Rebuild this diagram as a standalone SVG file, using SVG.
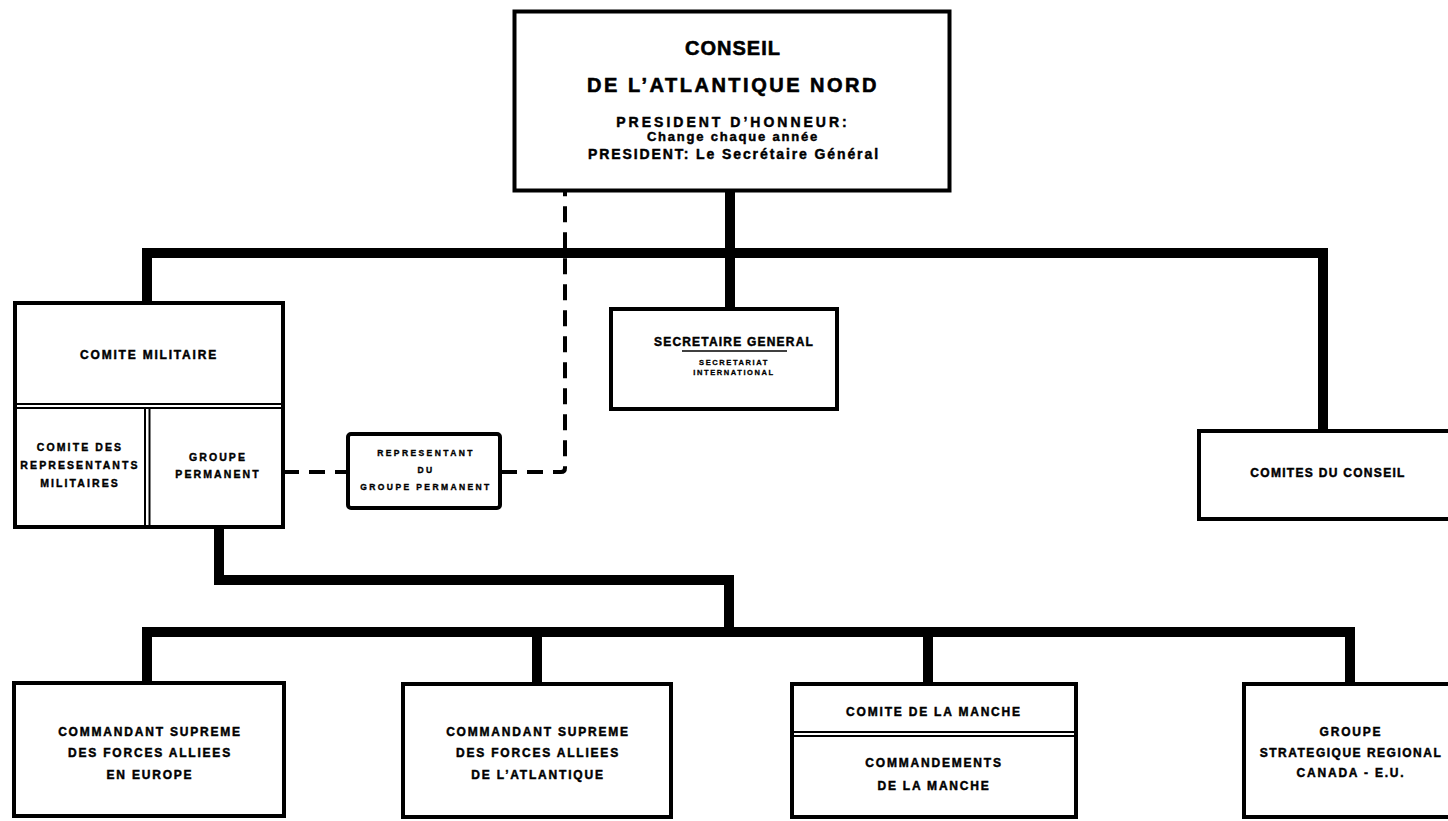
<svg xmlns="http://www.w3.org/2000/svg" width="1448" height="821" viewBox="0 0 1448 821">
<style>
  .box{fill:#fff;stroke:#000;stroke-width:4}
  .conn{fill:none;stroke:#000;stroke-width:10;stroke-linecap:square;stroke-linejoin:miter}
  .dash{fill:none;stroke:#000;stroke-width:4;stroke-dasharray:16 10}
  .dbl{stroke:#000;stroke-width:2}
  text{font-family:"Liberation Sans",Arial,Helvetica,sans-serif;font-weight:bold;fill:#000;text-anchor:middle;stroke:#000;stroke-width:0.45}
  .s{font-size:12px;letter-spacing:1.8px}
  .xs{font-size:10.5px;letter-spacing:2.1px;stroke-width:0.4}
  .xxs{font-size:8.5px;letter-spacing:2.4px;stroke-width:0.35}
</style>
<rect width="1448" height="821" fill="#fff"/>

<g id="connectors">
  <path class="conn" d="M730 195 V253 M147 302 V253 H1323 V430 M730 253 V308"/>
  <path class="conn" d="M219 527 V580 H729 V632 M147 683 V632 H1350 V683 M537 632 V683 M928 632 V683"/>
  <path class="dash" d="M283 472 H347"/>
  <path class="dash" d="M501 472 H561 Q565 472 565 468 V192"/>
</g>

<g id="conseil">
  <rect class="box" x="514.5" y="11.5" width="435" height="179"/>
  <text x="733" y="55" style="font-size:20px;letter-spacing:1px;stroke-width:0.6">CONSEIL</text>
  <text x="733" y="92" style="font-size:20px;letter-spacing:2.5px;stroke-width:0.6">DE L’ATLANTIQUE NORD</text>
  <text x="733" y="127" style="font-size:14px;letter-spacing:3px">PRESIDENT D’HONNEUR:</text>
  <text x="733" y="141" style="font-size:13px;letter-spacing:1.8px">Change chaque année</text>
  <text x="734" y="159" style="font-size:14px;letter-spacing:1.9px">PRESIDENT: Le Secrétaire Général</text>
</g>

<g id="comite-militaire">
  <rect class="box" x="15" y="303" width="268" height="224"/>
  <line class="dbl" x1="15" y1="404" x2="283" y2="404"/>
  <line class="dbl" x1="15" y1="408" x2="283" y2="408"/>
  <line class="dbl" x1="145" y1="408" x2="145" y2="527"/>
  <line class="dbl" x1="149.5" y1="408" x2="149.5" y2="527"/>
  <text class="s" x="149" y="359">COMITE MILITAIRE</text>
  <text class="xs" x="80" y="451">COMITE DES</text>
  <text class="xs" x="80" y="469">REPRESENTANTS</text>
  <text class="xs" x="80" y="487">MILITAIRES</text>
  <text class="xs" x="218" y="461">GROUPE</text>
  <text class="xs" x="218" y="478">PERMANENT</text>
</g>

<g id="representant">
  <rect class="box" x="348" y="434" width="152" height="74" rx="3"/>
  <text class="xxs" x="426" y="456">REPRESENTANT</text>
  <text class="xxs" x="426" y="473">DU</text>
  <text class="xxs" x="426" y="490">GROUPE PERMANENT</text>
</g>

<g id="secretaire">
  <rect class="box" x="611" y="309" width="226" height="100"/>
  <text x="734" y="346" style="font-size:12px;letter-spacing:1.2px">SECRETAIRE GENERAL</text>
  <line x1="682" y1="351" x2="787" y2="351" stroke="#000" stroke-width="1.5"/>
  <text x="734" y="365" style="font-size:7.5px;letter-spacing:1.6px;stroke-width:0.3">SECRETARIAT</text>
  <text x="734" y="375" style="font-size:7.5px;letter-spacing:1.6px;stroke-width:0.3">INTERNATIONAL</text>
</g>

<g id="comites-conseil">
  <rect class="box" x="1199" y="431" width="256" height="88"/>
  <text class="s" x="1328" y="477" style="letter-spacing:1.3px">COMITES DU CONSEIL</text>
</g>

<g id="saceur">
  <rect class="box" x="14" y="683" width="270" height="133"/>
  <text class="s" x="150" y="736">COMMANDANT SUPREME</text>
  <text class="s" x="150" y="757">DES FORCES ALLIEES</text>
  <text class="s" x="150" y="779">EN EUROPE</text>
</g>

<g id="saclant">
  <rect class="box" x="403" y="684" width="268" height="133"/>
  <text class="s" x="538" y="736">COMMANDANT SUPREME</text>
  <text class="s" x="538" y="757">DES FORCES ALLIEES</text>
  <text class="s" x="538" y="779">DE L’ATLANTIQUE</text>
</g>

<g id="manche">
  <rect class="box" x="792" y="684" width="284" height="133"/>
  <line class="dbl" x1="792" y1="732" x2="1076" y2="732"/>
  <line class="dbl" x1="792" y1="736" x2="1076" y2="736"/>
  <text class="s" x="934" y="716">COMITE DE LA MANCHE</text>
  <text class="s" x="934" y="767">COMMANDEMENTS</text>
  <text class="s" x="934" y="790">DE LA MANCHE</text>
</g>

<g id="groupe-strategique">
  <rect class="box" x="1244" y="684" width="210" height="133"/>
  <text class="s" x="1351" y="736">GROUPE</text>
  <text class="s" x="1351" y="757" style="letter-spacing:1.5px">STRATEGIQUE REGIONAL</text>
  <text class="s" x="1351" y="777">CANADA - E.U.</text>
</g>
</svg>
